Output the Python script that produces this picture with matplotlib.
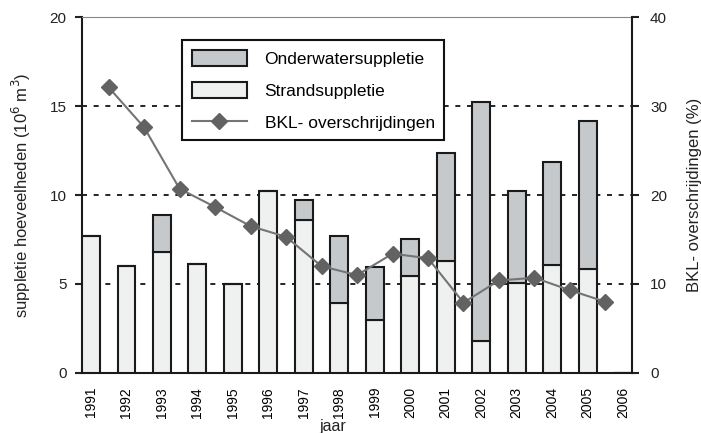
import matplotlib.pyplot as plt
import numpy as np

plt.rcParams['font.family'] = ['Liberation Sans', 'DejaVu Sans']

# data
years = [str(y) for y in range(1991, 2007)]
strand = [7.7, 6.0, 6.8, 6.1, 5.0, 10.2, 8.6, 3.95, 2.95, 5.45, 6.3, 1.82, 5.07, 6.07, 5.85, 0]
totaal = [7.7, 6.0, 8.85, 6.1, 5.0, 10.2, 9.72, 7.7, 5.97, 7.5, 12.35, 15.2, 10.22, 11.85, 14.17, 0]
onderwater = [t - s for t, s in zip(totaal, strand)]
bkl = [32.1, 27.6, 20.7, 18.65, 16.5, 15.3, 12.0, 11.0, 13.4, 12.9, 7.9, 10.4, 10.7, 9.3, 8.0]

fig = plt.figure(figsize=(7.01, 4.33), dpi=100)
ax = fig.add_axes([0.117, 0.1386, 0.7846, 0.8221])

x = np.arange(len(years))
b1 = ax.bar(x, strand, width=0.5, color='#eff1f0', edgecolor='#1a1a1a', linewidth=1.5, zorder=3,
            label='Strandsuppletie')
b2 = ax.bar(x, onderwater, bottom=strand, width=0.5, color='#c6c9cb', edgecolor='#1a1a1a',
            linewidth=1.5, zorder=3, label='Onderwatersuppletie')

ax.set_xlim(-0.25, len(years) - 0.75)
ax.set_ylim(0, 20)
ax.set_yticks([0, 5, 10, 15, 20])
ax.set_xticks(x)
ax.set_xticklabels(years, rotation=90, fontsize=10)
ax.tick_params(axis='x', length=0, pad=10)
ax.tick_params(axis='y', labelsize=11, length=5, width=1.5, pad=6, colors='#222222')
for yv in [5, 10, 15]:
    ax.axhline(yv, color='black', linestyle=(0, (3, 4)), linewidth=1.2, zorder=1)

for s in ['left', 'bottom']:
    ax.spines[s].set_linewidth(1.5)
    ax.spines[s].set_color('#1a1a1a')
ax.spines['top'].set_color('#888888')
ax.spines['right'].set_visible(False)

ax.set_ylabel('suppletie hoeveelheden (10$^6$ m$^3$)', fontsize=12, color='#222222', labelpad=12)
ax.set_xlabel('jaar', fontsize=11.5, color='#222222', va='top')
ax.xaxis.set_label_coords(0.456, -0.128)

ax2 = ax.twinx()
ax2.set_ylim(0, 40)
ax2.set_yticks([0, 10, 20, 30, 40])
ln, = ax2.plot(x[:len(bkl)] + 0.5, bkl, color='#747474', linewidth=1.5, marker='D',
               markersize=8, markerfacecolor='#626262', markeredgecolor='#626262',
               label='BKL- overschrijdingen')
ax2.tick_params(axis='y', labelsize=11, length=5, width=1.5, pad=8, colors='#222222')
ax2.spines['right'].set_linewidth(1.5)
ax2.spines['right'].set_color('#1a1a1a')
for s in ['left', 'top', 'bottom']:
    ax2.spines[s].set_visible(False)
ax2.set_ylabel('BKL- overschrijdingen (%)', fontsize=12, color='#222222', labelpad=14)

leg = ax2.legend([b2, b1, ln], ['Onderwatersuppletie', 'Strandsuppletie', 'BKL- overschrijdingen'],
                 loc='upper left', bbox_to_anchor=(0.182, 0.935), fontsize=12.5, fancybox=False,
                 framealpha=1, edgecolor='#111111', handlelength=3.2, handleheight=1.1,
                 borderpad=0.55, labelspacing=0.85, handletextpad=1.0, borderaxespad=0)
leg.get_frame().set_linewidth(1.5)

fig.savefig('out.png', dpi=100)
